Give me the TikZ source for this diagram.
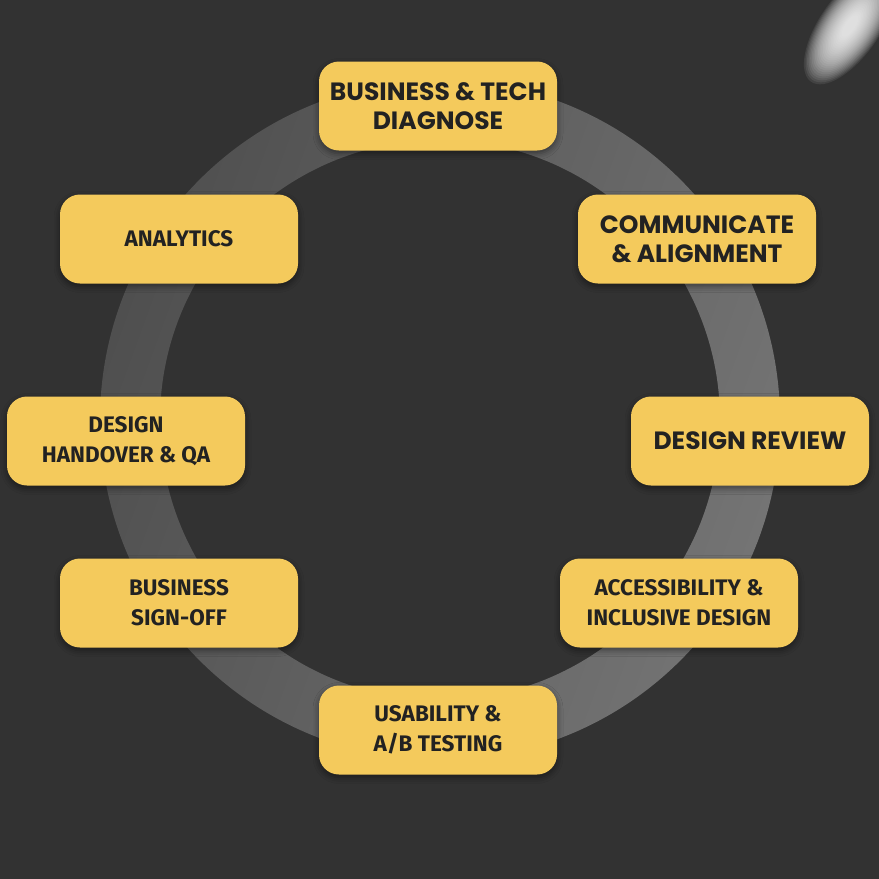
\documentclass[tikz,border=0pt]{standalone}
\usepackage{fontspec}
\usetikzlibrary{shadows.blur}
\newfontfamily\popfont{Poppins}
\newfontfamily\firafont{Fira Sans}
\definecolor{bg}{HTML}{323232}
\definecolor{boxy}{HTML}{F4CA5C}
\definecolor{txt}{HTML}{222222}
\definecolor{ringL}{HTML}{4F4F4F}
\definecolor{ringR}{HTML}{747474}
\begin{document}
\begin{tikzpicture}[x=1pt,y=-1pt,
  stage/.style={fill=boxy, rounded corners=20pt, minimum width=238pt, minimum height=89pt,
    inner sep=0pt, text=txt, align=center,
    blur shadow={shadow xshift=0pt, shadow yshift=-3pt, shadow blur radius=6pt, shadow opacity=45}},
  geo/.style={font=\popfont\bfseries\fontsize{25}{29}\selectfont},
  hum/.style={font=\firafont\bfseries\fontsize{22.5}{30}\selectfont}]
\fill[bg] (0,0) rectangle (879,879);
\useasboundingbox (0,0) rectangle (879,879);
\coordinate (c) at (440,420);
\shade[even odd rule, left color=ringL, right color=ringR, shading angle=70]
  (c) circle[radius=340pt] (c) circle[radius=280pt];
\begin{scope}[transform canvas={rotate around={55:(850,26)}}]
  \foreach \k in {0,...,24}
    \fill[white, opacity=0.08] (850,26) ellipse[x radius={68-2.3*\k}, y radius={30-1.05*\k}];
\end{scope}
\node[stage, geo] (biz) at (438,106) {BUSINESS \& TECH\\DIAGNOSE};
\node[stage, geo] (comm) at (697,239) {COMMUNICATE\\\& ALIGNMENT};
\node[stage, geo] (rev) at (750,441) {DESIGN REVIEW};
\node[stage, hum] (acc) at (679,603) {ACCESSIBILITY \&\\INCLUSIVE DESIGN};
\node[stage, hum] (usa) at (438,730) {USABILITY \&\\A/B TESTING};
\node[stage, hum] (sign) at (179,603) {BUSINESS\\SIGN-OFF};
\node[stage, hum] (hand) at (126,441) {DESIGN\\HANDOVER \& QA};
\node[stage, hum] (ana) at (179,239) {ANALYTICS};
\end{tikzpicture}
\end{document}
